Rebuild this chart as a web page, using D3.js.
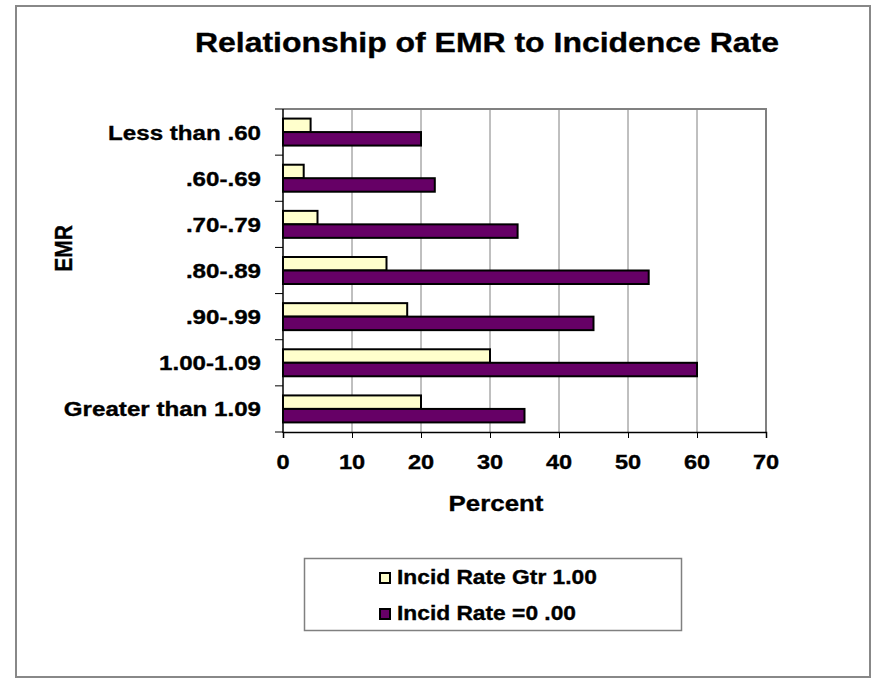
<!DOCTYPE html>
<html>
<head>
<meta charset="utf-8">
<script src="https://cdn.jsdelivr.net/npm/d3@7"></script>
<style>
  html, body { margin: 0; padding: 0; background: #fff; }
  svg { display: block; }
  text { font-family: "Liberation Sans", Arial, sans-serif; font-weight: bold; fill: #000; stroke: #000; stroke-width: 0.35px; }
</style>
</head>
<body>
<script>
// EMR bands, top to bottom
const categories = ["Less than .60", ".60-.69", ".70-.79", ".80-.89", ".90-.99", "1.00-1.09", "Greater than 1.09"];
// Percent of each band in each incidence-rate group
const seriesNames = ["Incid Rate Gtr 1.00", "Incid Rate =0 .00"];
const gtrOne = [4, 3, 5, 15, 18, 30, 20];
const zeroRate = [20, 22, 34, 53, 45, 60, 35];
const xTicks = [0, 10, 20, 30, 40, 50, 60, 70];
const colors = ["#FFFFCC", "#660066"];

const W = 872, H = 679;
const SX = 1.15; // horizontal stretch of the lettering
const svg = d3.select("body").append("svg").attr("width", W).attr("height", H);

// outer frame
svg.append("rect").attr("x", 16).attr("y", 6).attr("width", 854).attr("height", 671)
  .attr("fill", "#fff").attr("stroke", "#888").attr("stroke-width", 2);

function label(x, y, txt, size, anchor, rot) {
  const g = svg.append("g").attr("transform", `translate(${x},${y}) scale(${SX},1)` + (rot ? ` rotate(${rot})` : ""));
  g.append("text").attr("text-anchor", anchor || "start").style("font-size", size + "px").text(txt);
  return g;
}

const plot = { left: 283, right: 766, top: 109, bottom: 432 };

const x = d3.scaleLinear().domain([0, 70]).range([plot.left, plot.right]);
const y = d3.scaleBand().domain(categories).range([plot.top, plot.bottom])
  .paddingInner(0.415).paddingOuter(0.2075);
const ySub = d3.scaleBand().domain(seriesNames).range([0, y.bandwidth()]);

// grid lines
svg.append("g").selectAll("line").data(xTicks.slice(1, -1)).join("line")
  .attr("x1", d => x(d)).attr("x2", d => x(d))
  .attr("y1", plot.top).attr("y2", plot.bottom)
  .attr("stroke", "#808080").attr("stroke-width", 1);

// plot frame: top and right edges
svg.append("path")
  .attr("d", `M${plot.left},${plot.top}H${plot.right}V${plot.bottom}`)
  .attr("fill", "none").attr("stroke", "#808080").attr("stroke-width", 2);

// bars
const rows = categories.map((c, i) => ({ cat: c, vals: [gtrOne[i], zeroRate[i]] }));
const grp = svg.append("g").selectAll("g").data(rows).join("g")
  .attr("transform", d => `translate(0,${y(d.cat)})`);
grp.selectAll("rect").data(d => d.vals.map((v, j) => ({ v, j }))).join("rect")
  .attr("x", x(0))
  .attr("y", d => ySub(seriesNames[d.j]))
  .attr("width", d => x(d.v) - x(0))
  .attr("height", ySub.bandwidth())
  .attr("fill", d => colors[d.j])
  .attr("stroke", "#000").attr("stroke-width", 2);

// x axis
const xAxis = svg.append("g").attr("transform", `translate(0,${plot.bottom})`)
  .call(d3.axisBottom(x).tickValues(xTicks).tickSize(6).tickFormat(""));
xAxis.select(".domain").attr("stroke", "#000").attr("stroke-width", 1.5);
xAxis.selectAll(".tick line").attr("stroke", "#000");
xTicks.forEach(t => label(x(t), 469, String(t), 20.5, "middle"));

// y axis: ticks on category boundaries
const step = y.step();
const bounds = d3.range(categories.length + 1).map(i => plot.top + i * step);
svg.append("g").selectAll("line").data(bounds).join("line")
  .attr("x1", plot.left - 8).attr("x2", plot.left)
  .attr("y1", d => d).attr("y2", d => d)
  .attr("stroke", "#000").attr("stroke-width", 1);
svg.append("line").attr("x1", plot.left).attr("x2", plot.left)
  .attr("y1", plot.top).attr("y2", plot.bottom + 1)
  .attr("stroke", "#000").attr("stroke-width", 1.5);
categories.forEach(c => label(261, y(c) + y.bandwidth() / 2 + 7.5, c, 21, "end"));

// titles
label(487, 52, "Relationship of EMR to Incidence Rate", 27.8, "middle");
label(496, 511, "Percent", 22.5, "middle");
label(72, 248.5, "EMR", 21, "middle", -90);

// legend
svg.append("rect").attr("x", 304.5).attr("y", 558.5).attr("width", 377).attr("height", 72)
  .attr("fill", "#fff").attr("stroke", "#808080").attr("stroke-width", 1.5);
seriesNames.forEach((s, i) => {
  const yy = 573 + i * 36;
  svg.append("rect").attr("x", 380).attr("y", yy).attr("width", 10).attr("height", 10)
    .attr("fill", colors[i]).attr("stroke", "#000").attr("stroke-width", 2);
  label(397, yy + 10.5, s, 19.8, "start");
});
</script>
</body>
</html>
